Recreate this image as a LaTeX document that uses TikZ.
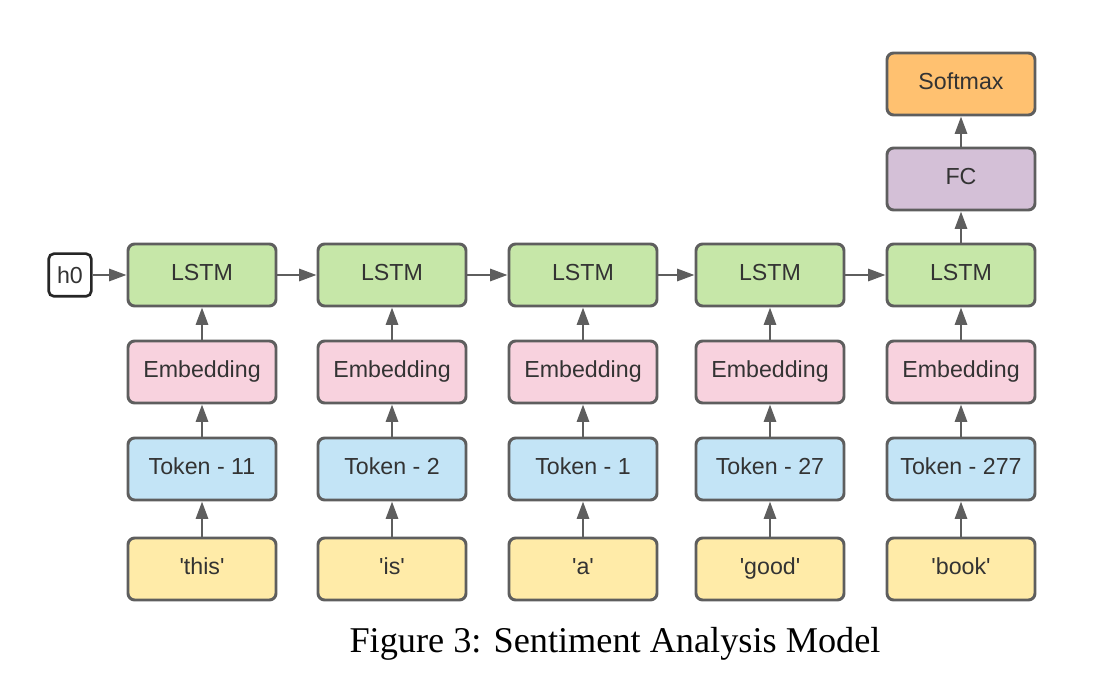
\documentclass[tikz,border=0pt]{standalone}
\usepackage{fontspec}
\setmainfont{Liberation Sans}
\newfontfamily\boxfont{Liberation Sans}
\newfontfamily\capfont{Liberation Serif}
\usetikzlibrary{arrows.meta}
\definecolor{bordergray}{HTML}{5E5E5E}
\definecolor{txtgray}{HTML}{333333}
\definecolor{lstmgreen}{HTML}{C6E7A8}
\definecolor{embpink}{HTML}{F8D2DE}
\definecolor{tokblue}{HTML}{C3E4F6}
\definecolor{wordyellow}{HTML}{FFEBA8}
\definecolor{fcpurple}{HTML}{D4C0D7}
\definecolor{smorange}{HTML}{FFC170}
\tikzset{
  blk/.style={draw=bordergray, line width=2.2pt, rounded corners=5pt,
    minimum width=111pt, minimum height=46.5pt, inner sep=0pt,
    text height=12.5pt, text depth=3.6pt,
    text=txtgray, font=\boxfont\fontsize{17.4}{20}\selectfont},
  lstm/.style={blk, fill=lstmgreen},
  emb/.style={blk, fill=embpink},
  tok/.style={blk, fill=tokblue},
  word/.style={blk, fill=wordyellow},
  fc/.style={blk, fill=fcpurple},
  sm/.style={blk, fill=smorange},
  hbox/.style={draw=black!85, line width=2pt, rounded corners=4pt, fill=white,
    minimum width=32pt, minimum height=32pt, inner sep=0pt,
    text=txtgray, font=\boxfont\fontsize{17.4}{20}\selectfont},
  conn/.style={draw=bordergray, line width=2pt,
    -{Triangle[length=13pt,width=9pt]}, color=bordergray},
}
\begin{document}
\begin{tikzpicture}[x=0.75pt, y=-0.75pt]
\useasboundingbox (0,0) rectangle (1100,684);
\node[hbox] (h0) at (70,275) {h0};
\foreach \i/\x/\t/\w in {1/202/Token - 11/'this', 2/392/Token - 2/'is', 3/583/Token - 1/'a', 4/770/Token - 27/'good', 5/961/Token - 277/'book'} {
  \node[lstm] (l\i) at (\x,275) {LSTM};
  \node[emb] (e\i) at (\x,372) {Embedding};
  \node[tok] (t\i) at (\x,469) {\t};
  \node[word] (w\i) at (\x,569) {\w};
  \draw[conn] (w\i) -- (t\i);
  \draw[conn] (t\i) -- (e\i);
  \draw[conn] (e\i) -- (l\i);
}
\node[fc] (fc) at (961,179) {FC};
\node[sm] (sm) at (961,84) {Softmax};
\draw[conn] (h0) -- (l1);
\draw[conn] (l1) -- (l2);
\draw[conn] (l2) -- (l3);
\draw[conn] (l3) -- (l4);
\draw[conn] (l4) -- (l5);
\draw[conn] (l5) -- (fc);
\draw[conn] (fc) -- (sm);
\node[font=\capfont\fontsize{27.2}{30}\selectfont, text=black, anchor=base, inner sep=0pt] (cap) at (615,652) {Figure 3: Sentiment Analysis Model};
\end{tikzpicture}
\end{document}
